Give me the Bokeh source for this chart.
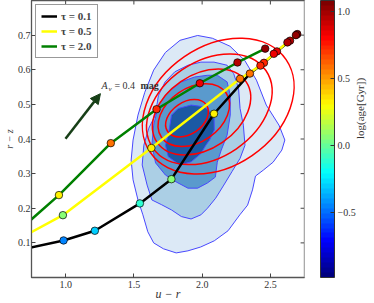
import math
from bokeh.plotting import figure
from bokeh.models import (ColumnDataSource, LinearColorMapper, ColorBar, FixedTicker,
                          Arrow, NormalHead, Label, Legend, LegendItem,
                          CustomJSTickFormatter, PrintfTickFormatter, Range1d, LinearAxis)
from bokeh.embed import file_html
from bokeh.resources import INLINE

# ---------------- data ----------------
tau_labels = ["τ = 0.1", "τ = 0.5", "τ = 2.0"]
track_colors = ["#000000", "#ffff00", "#008000"]

# tau = 0.1 track (u-r, r-z, log age)
t01_ur = [0.60, 0.985, 1.214, 1.544, 1.775, 2.087, 2.350, 2.453, 2.548, 2.644, 2.697]
t01_rz = [0.074, 0.107, 0.135, 0.214, 0.284, 0.473, 0.589, 0.620, 0.653, 0.684, 0.703]
t01_age = [-0.60, -0.44, -0.30, -0.12, 0.05, 0.32, 0.60, 0.72, 0.84, 0.95, 1.04]

# tau = 0.5 track
t05_ur = [0.60, 0.980, 1.628, 2.278, 2.427, 2.525, 2.625, 2.687]
t05_rz = [0.099, 0.180, 0.374, 0.574, 0.612, 0.646, 0.679, 0.700]
t05_age = [-0.12, 0.05, 0.32, 0.60, 0.72, 0.84, 0.95, 1.04]

# tau = 2.0 track
t20_ur = [0.60, 0.951, 1.331, 1.666, 1.983, 2.259, 2.462]
t20_rz = [0.116, 0.238, 0.388, 0.486, 0.561, 0.621, 0.661]
t20_age = [0.05, 0.32, 0.60, 0.72, 0.84, 0.95, 1.04]

# filled density contours of the galaxy sample (outer -> inner)
lvl1_ur = [1.967, 2.075, 2.204, 2.312, 2.398, 2.470, 2.563, 2.606, 2.584, 2.520, 2.448, 2.391,
           2.369, 2.333, 2.276, 2.190, 2.089, 1.989, 1.896, 1.810, 1.716, 1.645, 1.602, 1.566,
           1.530, 1.494, 1.480, 1.494, 1.530, 1.580, 1.645, 1.731, 1.838]
lvl1_rz = [0.699, 0.691, 0.668, 0.627, 0.570, 0.498, 0.440, 0.397, 0.368, 0.333, 0.310, 0.293,
           0.253, 0.209, 0.181, 0.135, 0.106, 0.088, 0.077, 0.071, 0.083, 0.100, 0.132, 0.181,
           0.224, 0.282, 0.339, 0.397, 0.469, 0.535, 0.599, 0.650, 0.685]
lvl2_ur = [1.657, 1.680, 1.729, 1.800, 1.896, 1.991, 2.087, 2.183, 2.231, 2.267, 2.278, 2.302,
           2.314, 2.278, 2.219, 2.159, 2.099, 2.039, 1.991, 1.919, 1.848, 1.776, 1.704, 1.632,
           1.597, 1.561, 1.573, 1.609]
lvl2_rz = [0.469, 0.526, 0.565, 0.594, 0.613, 0.622, 0.622, 0.613, 0.589, 0.546, 0.488, 0.440,
           0.382, 0.344, 0.306, 0.267, 0.229, 0.200, 0.181, 0.169, 0.176, 0.195, 0.210, 0.224,
           0.267, 0.325, 0.382, 0.431]
lvl3_ur = [1.632, 1.645, 1.680, 1.752, 1.848, 1.944, 2.039, 2.111, 2.183, 2.206, 2.206, 2.183,
           2.140, 2.111, 2.097, 2.039, 1.967, 1.896, 1.810, 1.731, 1.659]
lvl3_rz = [0.382, 0.440, 0.498, 0.536, 0.565, 0.579, 0.584, 0.584, 0.565, 0.527, 0.469, 0.411,
           0.368, 0.333, 0.290, 0.273, 0.258, 0.258, 0.276, 0.296, 0.331]
lvl4_ur = [1.776, 1.824, 1.919, 2.015, 2.087, 2.089, 2.054, 2.027, 1.991, 1.919, 1.836, 1.752,
           1.731, 1.752, 1.764]
lvl4_rz = [0.469, 0.488, 0.498, 0.493, 0.469, 0.426, 0.397, 0.382, 0.358, 0.334, 0.325, 0.349,
           0.382, 0.411, 0.440]
fill_colors = ["#dce9f6", "#abcfe5", "#5a9acd", "#1b59a4"]

# model-grid density contours (tilted ellipses, outer -> inner)
ring_ur = [2.118, 2.053, 1.996, 1.939, 1.889]
ring_rz = [0.495, 0.486, 0.478, 0.469, 0.460]
ring_w = [1.205, 1.004, 0.789, 0.574, 0.344]
ring_h = [0.346, 0.277, 0.213, 0.156, 0.092]
ring_angle = 0.6

# dust vector
av_start = (0.999, 0.401)
av_end = (1.255, 0.531)

x_ticks = [1.0, 1.5, 2.0, 2.5]
y_ticks = [0.1, 0.2, 0.3, 0.4, 0.5, 0.6, 0.7]
cb_ticks = [-0.5, 0.0, 0.5, 1.0]
age_low, age_high = -0.98, 1.08
x_lo, x_hi = 0.75, 2.75
y_lo, y_hi = 0.0, 0.8

# ---------------- palette (jet) ----------------
def jet(n):
    out = []
    for i in range(n):
        t = i / (n - 1)
        r = min(max(1.5 - abs(4 * t - 3), 0), 1)
        g = min(max(1.5 - abs(4 * t - 2), 0), 1)
        b = min(max(1.5 - abs(4 * t - 1), 0), 1)
        out.append("#%02x%02x%02x" % (int(r * 255), int(g * 255), int(b * 255)))
    return out

palette = jet(56)
SERIF = "Liberation Serif"
TXT = "#333333"
TICK = "#444444"

p = figure(width=374, height=303, output_backend="svg", toolbar_location=None,
           x_range=Range1d(x_lo, x_hi), y_range=Range1d(y_lo, y_hi),
           min_border_left=25, min_border_right=70, min_border_top=0, min_border_bottom=25)
p.grid.visible = False
p.outline_line_color = "#555555"
p.outline_line_width = 1.3
p.background_fill_color = "white"
p.border_fill_color = "white"

for ax in (p.xaxis, p.yaxis):
    ax.major_tick_in = 4
    ax.major_tick_out = 0
    ax.minor_tick_line_color = None
    ax.axis_line_color = "#555555"
    ax.major_tick_line_color = TICK
    ax.major_label_text_font = SERIF
    ax.major_label_text_font_size = "10px"
    ax.major_label_text_color = TXT
    ax.formatter = PrintfTickFormatter(format="%.1f")
    ax.axis_label_text_font = SERIF
    ax.axis_label_text_font_style = "italic"
    ax.axis_label_text_color = TXT
p.xaxis.axis_label_text_font_size = "12px"
p.yaxis.axis_label_text_font_size = "10px"
p.xaxis.ticker = FixedTicker(ticks=x_ticks)
p.yaxis.ticker = FixedTicker(ticks=y_ticks)
p.xaxis.major_label_standoff = 3
p.yaxis.major_label_standoff = 1
p.xaxis.axis_label = "u − r"
p.yaxis.axis_label = "r − z"
p.xaxis.axis_label_standoff = -4
p.yaxis.axis_label_standoff = 0

# inward ticks on top and right frame edges (at the tick values)
tick_dy = 4 / 347.0
tick_dx = 4 / 139.4
p.segment(x0=x_ticks, y0=[y_hi] * len(x_ticks), x1=x_ticks, y1=[y_hi - tick_dy] * len(x_ticks),
          line_color=TICK, line_width=1)
p.segment(x0=[x_hi] * len(y_ticks), y0=y_ticks, x1=[x_hi - tick_dx] * len(y_ticks), y1=y_ticks,
          line_color=TICK, line_width=1)

# blank white spacer between frame and colour bar
spacer = ColorBar(color_mapper=LinearColorMapper(palette=["#ffffff"], low=0, high=1),
                  width=16, height="auto", padding=0, margin=0,
                  ticker=FixedTicker(ticks=[]), label_standoff=0,
                  major_tick_line_color=None, minor_tick_line_color=None,
                  bar_line_color=None, border_line_color=None, background_fill_alpha=0)
p.add_layout(spacer, "right")

# contours
for ux, ry, fc in zip([lvl1_ur, lvl2_ur, lvl3_ur, lvl4_ur], [lvl1_rz, lvl2_rz, lvl3_rz, lvl4_rz], fill_colors):
    p.patch(ux, ry, fill_color=fc, line_color="#4848ff", line_width=1)

p.ellipse(x=ring_ur, y=ring_rz, width=ring_w, height=ring_h, angle=ring_angle,
          fill_color=None, line_color="#ff0000", line_width=1.5)

# tracks
tracks = [(t01_ur, t01_rz, t01_age), (t05_ur, t05_rz, t05_age), (t20_ur, t20_rz, t20_age)]
line_rs = []
for (ux, ry, ag), col in zip(tracks, track_colors):
    line_rs.append(p.line(ux, ry, line_color=col, line_width=2.5))

mapper = LinearColorMapper(palette=palette, low=age_low, high=age_high)
for ux, ry, ag in tracks:
    src = ColumnDataSource(dict(x=ux, y=ry, age=ag))
    p.scatter("x", "y", source=src, size=7.5, line_color="#000000", line_width=0.7,
              fill_color={"field": "age", "transform": mapper})

# dust arrow + label
arrow_col = "#173f17"
p.add_layout(Arrow(end=NormalHead(size=10, fill_color=arrow_col, line_color=arrow_col),
                   x_start=av_start[0], y_start=av_start[1], x_end=av_end[0], y_end=av_end[1],
                   line_color=arrow_col, line_width=2.5))
lab_x, lab_y = 1.262, 0.538
p.add_layout(Label(x=lab_x, y=lab_y, text="A", text_font=SERIF, text_font_style="italic",
                   text_font_size="10px", text_color=TXT))
p.add_layout(Label(x=lab_x, y=lab_y, x_offset=7, y_offset=-2, text="v", text_font=SERIF,
                   text_font_style="italic", text_font_size="7px", text_color=TXT))
p.add_layout(Label(x=lab_x, y=lab_y, x_offset=13, text="= 0.4", text_font=SERIF,
                   text_font_size="10px", text_color=TXT))
p.add_layout(Label(x=lab_x, y=lab_y, x_offset=39, text="mag", text_font=SERIF,
                   text_font_style="bold", text_font_size="10px", text_color=TXT))

# legend
legend = Legend(items=[LegendItem(label=lbl, renderers=[r]) for lbl, r in zip(tau_labels, line_rs)],
                location="top_left", label_text_font=SERIF, label_text_font_style="bold",
                label_text_font_size="11px", glyph_width=16, glyph_height=10, label_height=10,
                spacing=3, padding=5, margin=4, border_line_color="#333333",
                border_line_width=1.2, label_standoff=4)
p.add_layout(legend)

# colour bar
cb = ColorBar(color_mapper=mapper, width=14, height="auto", padding=0, margin=0,
              ticker=FixedTicker(ticks=cb_ticks),
              formatter=CustomJSTickFormatter(code="return tick.toFixed(1).replace('-', '\u2212');"),
              major_label_text_font=SERIF, major_label_text_font_size="10px",
              major_label_text_color=TXT,
              major_tick_in=4, major_tick_out=0, major_tick_line_color="#333333",
              minor_tick_line_color=None, bar_line_color="#333333", label_standoff=3,
              border_line_color=None, background_fill_alpha=0)
p.add_layout(cb, "right")

# colour bar title (as a bare axis label)
title_ax = LinearAxis(ticker=FixedTicker(ticks=[]), major_tick_in=0, major_tick_out=0,
                      minor_tick_in=0, minor_tick_out=0,
                      major_tick_line_color=None, minor_tick_line_color=None,
                      axis_line_color=None, major_label_standoff=0,
                      axis_label="log(age[Gyr])",
                      axis_label_text_font=SERIF, axis_label_text_font_size="11px",
                      axis_label_text_font_style="normal", axis_label_text_color=TXT,
                      axis_label_standoff=1)
if "axis_label_orientation" in LinearAxis.properties():
    title_ax.axis_label_orientation = math.pi / 2
p.add_layout(title_ax, "right")

open("out.html", "w").write(file_html(p, INLINE))
